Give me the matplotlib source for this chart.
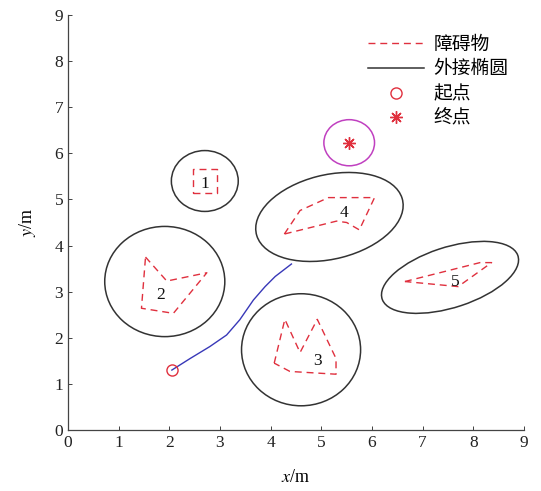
import matplotlib
matplotlib.use("Agg")
import matplotlib.pyplot as plt
from matplotlib.patches import Ellipse, Circle
from matplotlib.lines import Line2D
from matplotlib.font_manager import FontProperties

plt.rcParams['font.family'] = ['Liberation Serif', 'Noto Sans CJK SC']
plt.rcParams['mathtext.fontset'] = 'stix'

# ---- data ----
obs1_x = [2.46, 2.95, 2.95, 2.46, 2.46]
obs1_y = [5.14, 5.14, 5.66, 5.66, 5.14]
obs2_x = [1.53, 1.95, 2.74, 2.08, 1.45, 1.53]
obs2_y = [3.75, 3.23, 3.41, 2.53, 2.64, 3.75]
obs3_x = [4.07, 4.28, 4.58, 4.92, 5.29, 5.29, 4.38, 4.07]
obs3_y = [1.45, 2.40, 1.68, 2.40, 1.55, 1.21, 1.27, 1.45]
obs4_x = [4.27, 4.58, 5.14, 6.05, 5.75, 5.50, 5.30, 4.27]
obs4_y = [4.25, 4.76, 5.04, 5.04, 4.34, 4.50, 4.53, 4.25]
obs5_x = [6.65, 8.13, 8.36, 7.70, 6.65]
obs5_y = [3.22, 3.63, 3.63, 3.11, 3.22]
obstacles_x = [obs1_x, obs2_x, obs3_x, obs4_x, obs5_x]
obstacles_y = [obs1_y, obs2_y, obs3_y, obs4_y, obs5_y]

ell_cx = [2.70, 1.91, 4.60, 5.16, 7.54]
ell_cy = [5.40, 3.22, 1.74, 4.62, 3.31]
ell_w = [1.32, 2.37, 2.35, 2.98, 2.84]
ell_h = [1.32, 2.39, 2.43, 1.82, 1.30]
ell_ang = [0, 0, 0, 15.8, 20.0]

label_names = ['1', '2', '3', '4', '5']
label_x = [2.70, 1.82, 4.92, 5.45, 7.64]
label_y = [5.34, 2.93, 1.50, 4.71, 3.20]

path_x = [2.05, 2.41, 2.80, 3.13, 3.39, 3.66, 3.89, 4.09, 4.41]
path_y = [1.30, 1.55, 1.81, 2.06, 2.39, 2.82, 3.11, 3.33, 3.60]

start = (2.05, 1.30)
goal = (5.55, 6.23)
goal_radius = 0.5

ticks = list(range(0, 10))
legend_labels = ['障碍物', '外接椭圆', '起点', '终点']

# ---- figure ----
fig = plt.figure(figsize=(5.41, 4.91), dpi=100)
ax = fig.add_axes([68/541, 61/491, 456/541, 415/491])

red = '#e0303e'
for ox, oy in zip(obstacles_x, obstacles_y):
    ax.plot(ox, oy, color=red, lw=1.0, ls=(0, (5, 3.5)))

for cx, cy, w, h, a in zip(ell_cx, ell_cy, ell_w, ell_h, ell_ang):
    ax.add_patch(Ellipse((cx, cy), w, h, angle=a, fill=False,
                         edgecolor='#333333', lw=1.1))

for t, x, y in zip(label_names, label_x, label_y):
    ax.text(x, y, t, fontsize=12.5, ha='center', va='center', color='#111111')

ax.plot(path_x, path_y, color='#3838b8', lw=1.0)
ax.add_patch(Circle(goal, goal_radius, fill=False, edgecolor='#c040c0', lw=1.1))
ax.plot([start[0]], [start[1]], marker='o', ms=8, mfc='none', mec=red, mew=1.0, ls='none')
ax.plot([goal[0]], [goal[1]], marker=(8, 2, 0), ms=9, color=red, mew=1.0, ls='none')

ax.set_xlim(0, 9)
ax.set_ylim(0, 9)
ax.set_xticks(ticks)
ax.set_yticks(ticks)
ax.tick_params(direction='in', length=3, width=0.6, labelsize=12.5, colors='#222222')
for s in ['top', 'right']:
    ax.spines[s].set_visible(False)
for s in ['left', 'bottom']:
    ax.spines[s].set_color('#444444')
    ax.spines[s].set_linewidth(0.9)

ax.set_xlabel(r'$x$/m', fontsize=13, labelpad=13)
ax.set_ylabel(r'$y$/m', fontsize=13, labelpad=12)

handles = [
    Line2D([], [], color=red, lw=1.0, ls=(0, (5, 3.5))),
    Line2D([], [], color='#333333', lw=1.1),
    Line2D([], [], marker='o', ms=8, mfc='none', mec=red, ls='none'),
    Line2D([], [], marker=(8, 2, 0), ms=9, color=red, ls='none'),
]
leg = ax.legend(handles, legend_labels, loc='upper left',
                bbox_to_anchor=(0.657, 0.955), frameon=False,
                prop=FontProperties(family=['Noto Sans CJK SC'], size=13.5),
                handlelength=3.0, handletextpad=0.5, labelspacing=0.2,
                borderpad=0, borderaxespad=0)

fig.savefig('out.png', dpi=100)
